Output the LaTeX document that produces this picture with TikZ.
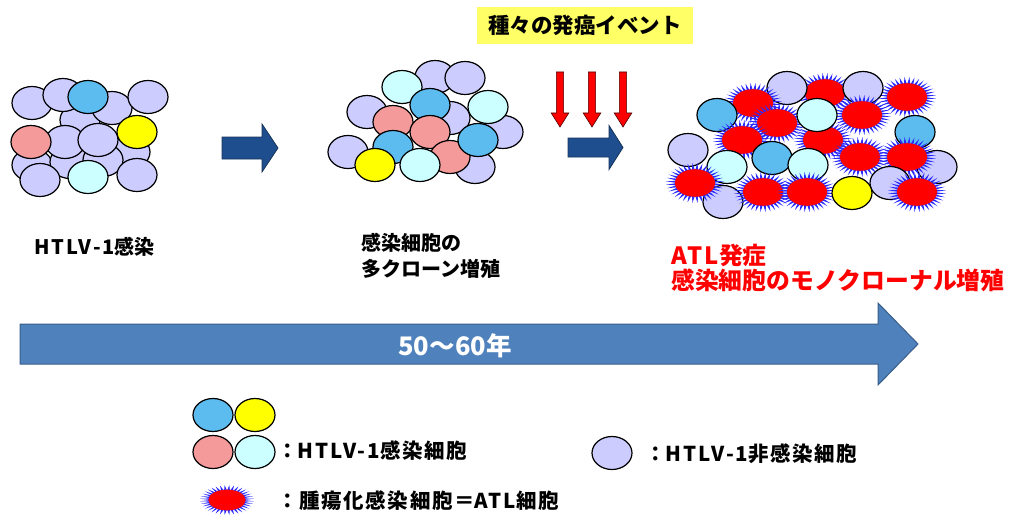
\documentclass[tikz,border=0pt]{standalone}
\usepackage{fontspec}
\setmainfont{Noto Sans CJK JP}
\definecolor{lav}{HTML}{CCCCFF}
\definecolor{cblue}{HTML}{5DBCEF}
\definecolor{ccyan}{HTML}{CCFFFF}
\definecolor{cpink}{HTML}{F59A9A}
\definecolor{cyell}{HTML}{FFFF00}
\definecolor{spikeblue}{HTML}{2A2AFF}
\definecolor{darkarrow}{HTML}{1F4E8F}
\definecolor{darkarrowline}{HTML}{17325A}
\definecolor{timefill}{HTML}{4F81BD}
\definecolor{timeline}{HTML}{385D8A}
\definecolor{notebox}{HTML}{FFFF66}
% Latin runs are set a little looser than the kana and kanji
\newcommand\lat[1]{{\addfontfeatures{LetterSpace=10}#1}}
\tikzset{
  cellline/.style={draw=black, line width=1.2pt},
  blockarrow/.style={fill=darkarrow, draw=darkarrowline, line width=0.8pt},
  timearrow/.style={fill=timefill, draw=timeline, line width=1pt},
  redarrow/.style={fill=red, draw=black!70!red, line width=0.6pt},
  lbl/.style={font=\bfseries\fontsize{20}{26}\selectfont, inner sep=0pt, align=left},
  leglbl/.style={font=\bfseries\fontsize{20.5}{26}\selectfont\addfontfeatures{LetterSpace=8}, inner sep=0pt, align=left},
  redlbl/.style={font=\bfseries\fontsize{23.8}{25}\selectfont, text=red, inner sep=0pt, align=left},
}
% an ordinary cell: x, y, fill colour
\newcommand\cellE[3]{\filldraw[cellline, fill=#3] (#1,#2) ellipse [x radius=20pt, y radius=16.5pt];}
% a tumour cell: x, y, outer x radius, outer y radius
\newcommand\atlcell[4]{%
  \fill[spikeblue] plot[samples at={0,5,...,355}, variable=\t]
    ({#1+#3*(0.62+0.076*mod(\t,10))*cos(\t)}, {#2+#4*(0.62+0.076*mod(\t,10))*sin(\t)}) -- cycle;
  \fill[red] (#1,#2) ellipse [x radius={0.69*#3*1pt}, y radius={0.69*#4*1pt}];}
% a block arrow pointing right: x start, x head base, x tip, y middle, half shaft, half head
\newcommand\rarrow[7]{%
  \filldraw[#7] (#1,{#4-#5}) -- (#2,{#4-#5}) -- (#2,{#4-#6}) -- (#3,#4) -- (#2,{#4+#6})
    -- (#2,{#4+#5}) -- (#1,{#4+#5}) -- cycle;}
\begin{document}
\begin{tikzpicture}[x=1pt,y=-1pt]
\useasboundingbox (0,0) rectangle (1011,524);

% ---- stage 1: HTLV-1 infection
\cellE{80}{120}{lav}
\cellE{130}{152}{lav}
\cellE{32}{103}{lav}
\cellE{63}{95}{lav}
\cellE{112}{108}{lav}
\cellE{148}{97}{lav}
\cellE{88}{97}{cblue}
\cellE{32}{165}{lav}
\cellE{70}{162}{lav}
\cellE{103}{160}{lav}
\cellE{65}{142}{lav}
\cellE{98}{140}{lav}
\cellE{137}{132}{cyell}
\cellE{31}{142}{cpink}
\cellE{137}{175}{lav}
\cellE{40}{180}{lav}
\cellE{88}{177}{ccyan}

% ---- stage 2: polyclonal expansion
\cellE{435}{77}{lav}
\cellE{465}{78}{lav}
\cellE{402}{87}{ccyan}
\cellE{367}{112}{lav}
\cellE{450}{118}{lav}
\cellE{503}{132}{lav}
\cellE{430}{105}{cblue}
\cellE{488}{107}{ccyan}
\cellE{393}{122}{cpink}
\cellE{430}{132}{cpink}
\cellE{348}{152}{lav}
\cellE{475}{167}{lav}
\cellE{393}{147}{cblue}
\cellE{450}{157}{cpink}
\cellE{478}{140}{cblue}
\cellE{375}{165}{cyell}
\cellE{420}{165}{ccyan}

% ---- stage 3: monoclonal expansion (ATL)
\atlcell{825}{93}{29}{20}
\atlcell{907}{97}{29}{20}
\cellE{787}{88}{lav}
\cellE{863}{88}{lav}
\atlcell{753}{103}{29}{20}
\atlcell{862}{115}{29}{20}
\cellE{717}{115}{cblue}
\atlcell{777}{123}{29}{20}
\atlcell{742}{140}{29}{20}
\atlcell{823}{140}{29}{20}
\cellE{817}{115}{ccyan}
\cellE{915}{132}{cblue}
\cellE{688}{150}{lav}
\cellE{937}{167}{lav}
\atlcell{860}{157}{29}{20}
\atlcell{907}{157}{29}{20}
\cellE{772}{158}{cblue}
\cellE{727}{167}{ccyan}
\cellE{808}{165}{ccyan}
\cellE{723}{202}{lav}
\cellE{890}{183}{lav}
\atlcell{695}{183}{29}{20}
\atlcell{763}{192}{29}{20}
\atlcell{807}{192}{29}{20}
\cellE{852}{193}{cyell}
\atlcell{917}{192}{29}{20}

% ---- progression arrows
\rarrow{222}{262}{278}{148}{11}{24}{blockarrow}
\rarrow{568}{609}{623}{147.5}{9.5}{22}{blockarrow}
\foreach \c in {560,592,623}
  \filldraw[redarrow] ({\c-3.6},72) -- ({\c+3.6},72) -- ({\c+3.6},113) -- ({\c+8.8},113)
    -- (\c,127) -- ({\c-8.8},113) -- ({\c-3.6},113) -- cycle;
\node[fill=notebox, minimum width=216pt, minimum height=37pt, inner sep=0pt,
      font=\bfseries\fontsize{21.5}{24}\selectfont] (events) at (585,25.5) {種々の発癌イベント};

% ---- stage labels
\node[lbl, anchor=west] (lab1) at (34,247) {\lat{HTLV-1}感染};
\node[lbl, anchor=north west] (lab2) at (361,233) {感染細胞の\\多クローン増殖};
\node[redlbl, anchor=north west] (lab3) at (671,244) {\lat{ATL}発症\\感染細胞のモノクローナル増殖};

% ---- time axis
\rarrow{20}{878}{918}{344}{20}{41}{timearrow}
\node[font=\bfseries\fontsize{25.5}{28}\selectfont, text=white, inner sep=0pt] (years) at (455,346) {50〜60年};

% ---- legend
\cellE{213}{415}{cblue}
\cellE{255}{415}{cyell}
\cellE{213}{452}{cpink}
\cellE{255}{452}{ccyan}
\node[leglbl, anchor=west] (leg1) at (277,451) {：\lat{HTLV-1}感染細胞};
\cellE{612}{453}{lav}
\node[leglbl, anchor=west] (leg2) at (645,454) {：\lat{HTLV-1}非感染細胞};
\atlcell{227}{500}{27}{15}
\node[leglbl, anchor=west] (leg3) at (277,501) {：腫瘍化感染細胞＝\lat{ATL}細胞};
\end{tikzpicture}
\end{document}
